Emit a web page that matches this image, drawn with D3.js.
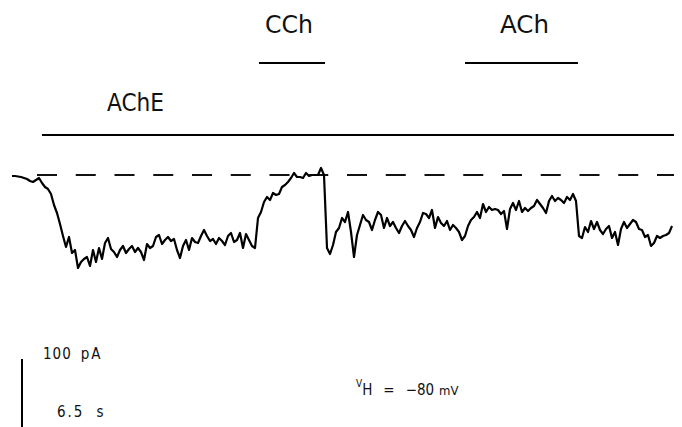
<!DOCTYPE html>
<html>
<head>
<meta charset="utf-8">
<script src="https://cdn.jsdelivr.net/npm/d3@7/dist/d3.min.js"></script>
<style>
  html, body { margin: 0; padding: 0; background: #fff; overflow: hidden; }
  svg { display: block; }
</style>
</head>
<body>
<svg id="chart" width="682" height="427"></svg>
<script>
// Whole-cell current recording, sampled every 0.3 s (pA, inward negative)
const sampleInterval = 0.3;
const currentPA = [
  -1, -1, -1.5, -2, -3, -4, -6, -7, -5, -3,
  -8, -12, -14, -19, -30, -38, -49, -61, -72, -62,
  -78, -75, -93, -87, -84, -82, -91, -75, -87, -73,
  -84, -68, -63, -74, -77, -82, -75, -71, -78, -74,
  -71, -77, -73, -77, -85, -69, -73, -71, -62, -60,
  -69, -65, -62, -66, -64, -75, -83, -71, -65, -75,
  -63, -67, -68, -61, -55, -61, -66, -64, -69, -63,
  -66, -70, -61, -58, -67, -65, -58, -73, -59, -65,
  -71, -73, -43, -37, -27, -22, -25, -18, -20, -19,
  -12, -10, -7, -3, 2, -2, -2, -3, 2, -1,
  0, 0, 0, 7, 0, -73, -79, -70, -57, -53,
  -43, -47, -37, -57, -82, -60, -50, -40, -45, -47,
  -55, -45, -37, -40, -53, -43, -51, -47, -53, -58,
  -51, -46, -51, -55, -62, -53, -47, -38, -39, -43,
  -35, -53, -42, -48, -51, -46, -55, -50, -53, -57,
  -65, -61, -51, -45, -42, -37, -43, -29, -37, -32,
  -35, -34, -35, -39, -36, -54, -34, -28, -35, -26,
  -37, -33, -36, -33, -31, -25, -29, -33, -38, -26,
  -21, -26, -23, -25, -28, -22, -25, -19, -26, -61,
  -63, -52, -57, -46, -54, -47, -55, -59, -54, -51,
  -63, -57, -70, -54, -47, -53, -49, -45, -47, -54,
  -55, -62, -60, -71, -68, -61, -63, -61, -60, -58,
  -51
];

// Drug application periods (s)
const drugNames = ["AChE", "CCh", "ACh"];
const drugStart = [3.0, 24.7, 45.3];
const drugEnd   = [66.2, 31.3, 56.6];

// Calibration and recording conditions
const calCurrent = 100;   // pA
const calTime = 6.5;      // s
const holdingPotential = -80; // mV

const svg = d3.select("#chart");
const fontFamily = "'DejaVu Sans Condensed', 'DejaVu Sans', sans-serif";

const times = currentPA.map((_, i) => i * sampleInterval);
const x = d3.scaleLinear().domain([0, d3.max(times)]).range([12, 672]);
const y = d3.scaleLinear().domain([-100, 0]).range([275, 175]);

// zero-current reference
svg.append("line")
  .attr("x1", 37).attr("x2", 674)
  .attr("y1", y(0)).attr("y2", y(0))
  .attr("stroke", "#111").attr("stroke-width", 2)
  .attr("stroke-dasharray", "20 18.75");

// current trace
const line = d3.line()
  .x((d, i) => x(times[i]))
  .y(d => y(d));
svg.append("path")
  .datum(currentPA)
  .attr("d", line)
  .attr("fill", "none")
  .attr("stroke", "#000")
  .attr("stroke-width", 2.2)
  .attr("stroke-linejoin", "round");

// drug application bars and labels
const barY = [135, 63, 63];
const labelPos = [
  { x: x(drugStart[0]) + 65, y: 111, anchor: "start", len: 57 },
  { x: (x(drugStart[1]) + x(drugEnd[1])) / 2 - 3, y: 33, anchor: "middle", len: 48 },
  { x: (x(drugStart[2]) + x(drugEnd[2])) / 2 + 3, y: 33, anchor: "middle", len: 49 }
];
drugNames.forEach((name, k) => {
  svg.append("line")
    .attr("x1", x(drugStart[k])).attr("x2", x(drugEnd[k]))
    .attr("y1", barY[k]).attr("y2", barY[k])
    .attr("stroke", "#000").attr("stroke-width", 2);
  svg.append("text")
    .attr("x", labelPos[k].x).attr("y", labelPos[k].y)
    .attr("text-anchor", labelPos[k].anchor)
    .attr("font-family", fontFamily)
    .attr("font-size", 25)
    .attr("textLength", labelPos[k].len)
    .attr("lengthAdjust", "spacingAndGlyphs")
    .attr("fill", "#111")
    .text(name);
});

// calibration bar (current)
const calTop = 359;
svg.append("line")
  .attr("x1", 22).attr("x2", 22)
  .attr("y1", calTop).attr("y2", calTop + (y(-calCurrent) - y(0)))
  .attr("stroke", "#000").attr("stroke-width", 2);

const calI = svg.append("text")
  .attr("x", 43).attr("y", 359)
  .attr("font-family", fontFamily)
  .attr("font-size", 15).attr("fill", "#111");
calI.append("tspan").attr("letter-spacing", 1).text(String(calCurrent));
calI.append("tspan").attr("dx", 9).attr("letter-spacing", 2).text("pA");

const calT = svg.append("text")
  .attr("x", 57).attr("y", 417)
  .attr("font-family", fontFamily)
  .attr("font-size", 15).attr("fill", "#111");
calT.append("tspan").attr("letter-spacing", 2).text(String(calTime));
calT.append("tspan").attr("dx", 12).text("s");

// holding potential
const vh = svg.append("text")
  .attr("x", 356).attr("y", 395)
  .attr("font-family", fontFamily)
  .attr("fill", "#111");
vh.append("tspan").attr("font-size", 10).attr("dy", -8).text("V");
vh.append("tspan").attr("font-size", 15).attr("dy", 8).text("H");
vh.append("tspan").attr("font-size", 15).attr("dx", 11).text("=");
vh.append("tspan").attr("font-size", 15).attr("dx", 11).text("\u2212" + Math.abs(holdingPotential));
vh.append("tspan").attr("font-size", 13).attr("dx", 5).text("mV");
</script>
</body>
</html>
